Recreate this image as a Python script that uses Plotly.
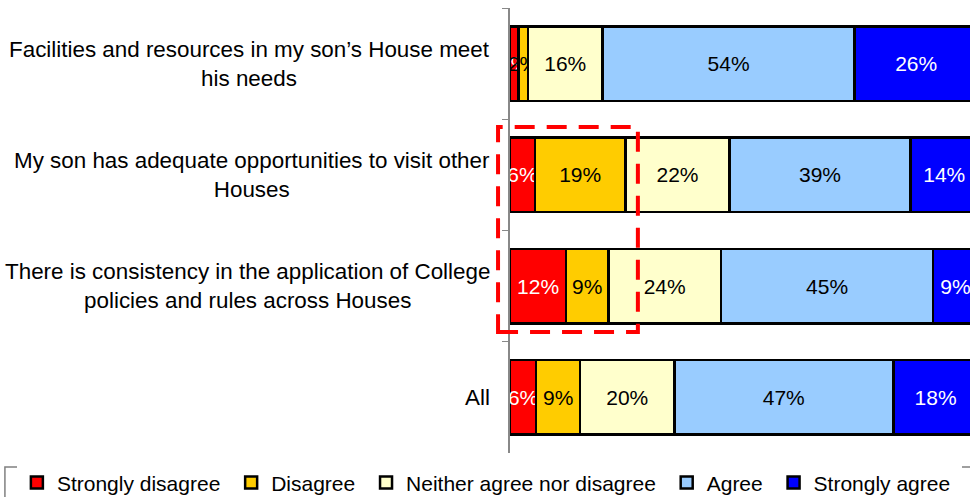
import plotly.graph_objects as go

categories = [
    "Facilities and resources in my son’s House meet<br>his needs",
    "My son has adequate opportunities to visit other<br>Houses",
    "There is consistency in the application of College<br>policies and rules across Houses",
    "All",
]
series_names = ["Strongly disagree", "Disagree", "Neither agree nor disagree", "Agree", "Strongly agree"]
strongly_disagree = [1.8, 5.3, 12.0, 5.6]
disagree = [2.0, 19.4, 9.0, 9.4]
neither = [16.0, 22.2, 24.1, 20.1]
agree = [53.8, 38.7, 45.3, 46.8]
strongly_agree = [26.4, 14.4, 9.6, 18.1]
labels_sd = ["2%", "6%", "12%", "6%"]
labels_d = ["2%", "19%", "9%", "9%"]
labels_n = ["16%", "22%", "24%", "20%"]
labels_a = ["54%", "39%", "45%", "47%"]
labels_sa = ["26%", "14%", "9%", "18%"]

colors = ["#FF0000", "#FFCC00", "#FFFFCC", "#99CCFF", "#0000FF"]
text_colors = ["white", "black", "black", "black", "white"]
values = [strongly_disagree, disagree, neither, agree, strongly_agree]
texts = [labels_sd, labels_d, labels_n, labels_a, labels_sa]

FONT = "Arial, Liberation Sans, sans-serif"

fig = go.Figure()
for name, vals, txt, col, tcol in zip(series_names, values, texts, colors, text_colors):
    fig.add_trace(go.Bar(
        y=categories, x=vals, orientation="h", name=name + "\u00a0",
        marker=dict(color=col, line=dict(color="black", width=2.5)),
        text=txt, textposition="inside", insidetextanchor="middle",
        textangle=0, constraintext="none",
        textfont=dict(color=tcol, size=21, family=FONT),
        hoverinfo="skip",
    ))

annotations = []
for c in categories:
    annotations.append(dict(
        x=-0.039, xref="paper", y=c, yref="y", xanchor="right", yanchor="middle",
        text=c, showarrow=False, align="center",
        font=dict(size=22.4, color="black", family=FONT),
    ))

fig.update_layout(
    barmode="stack",
    bargap=0.33,
    width=970, height=497,
    margin=dict(l=510, r=0, t=8, b=44, autoexpand=False),
    paper_bgcolor="white", plot_bgcolor="white",
    showlegend=True,
    legend=dict(orientation="h", x=-1.072, xanchor="left", y=-0.021, yanchor="top",
                font=dict(size=21, family=FONT, color="black"),
                itemwidth=30, traceorder="normal", tracegroupgap=0),
    annotations=annotations,
    shapes=[
        dict(type="rect", xref="paper", yref="paper", x0=-0.026, x1=0.278, y0=0.272, y1=0.7326,
             line=dict(color="#FF0000", width=4, dash="20px,12px"), fillcolor="rgba(0,0,0,0)", layer="above"),
        dict(type="rect", xref="paper", yref="paper", x0=-1.098, x1=1.01, y0=-0.0315, y1=-0.12,
             line=dict(color="#808080", width=1.5), fillcolor="rgba(0,0,0,0)"),
    ],
)
fig.update_xaxes(range=[0, 98.3], visible=False, showgrid=False, zeroline=False)
fig.update_yaxes(autorange="reversed", showticklabels=False, showline=True, linecolor="#888888",
                 linewidth=1.5, ticks="outside", tickson="boundaries", ticklen=6, tickcolor="#888888",
                 showgrid=False)

fig.write_html("out.html", config={"displayModeBar": False},
               post_script="document.body.style.margin='0';document.body.style.padding='0';document.body.style.overflow='hidden';")
